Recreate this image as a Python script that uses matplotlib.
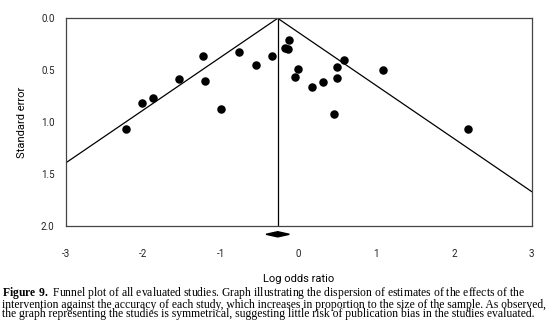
import matplotlib
matplotlib.use("Agg")
import matplotlib.pyplot as plt

# Study estimates
log_or = [-2.23, -2.02, -1.87, -1.54, -1.23, -1.21, -1.00, -0.77, -0.55, -0.34,
          -0.13, -0.18, -0.14, -0.01, -0.05, 0.17, 0.32, 0.49, 0.49, 0.58,
          0.45, 1.08, 2.18]
std_err = [1.07, 0.82, 0.77, 0.58, 0.36, 0.60, 0.875, 0.32, 0.45, 0.365,
           0.21, 0.285, 0.30, 0.485, 0.57, 0.665, 0.615, 0.47, 0.575, 0.40,
           0.92, 0.50, 1.07]
pooled = -0.27
diamond_half_width = 0.15
x_ticks = [-3, -2, -1, 0, 1, 2, 3]
y_ticks = [0.0, 0.5, 1.0, 1.5, 2.0]

caption = (r"$\mathbf{Figure\ 9.}$ Funnel plot of all evaluated studies. Graph illustrating the dispersion of estimates of the effects of the" "\n"
           "intervention against the accuracy of each study, which increases in proportion to the size of the sample. As observed,\n"
           "the graph representing the studies is symmetrical, suggesting little risk of publication bias in the studies evaluated.")

plt.rcParams['font.family'] = ['Roboto', 'DejaVu Sans']
plt.rcParams['mathtext.fontset'] = 'custom'
plt.rcParams['mathtext.bf'] = 'Liberation Serif:bold'
plt.rcParams['mathtext.rm'] = 'Liberation Serif'

fig = plt.figure(figsize=(5.5, 3.3), dpi=100)
ax = fig.add_axes([0.1195, 0.3152, 0.847, 0.6294])

# funnel lines (95% limits)
se_max = 2.0
ax.plot([-3, pooled, 3], [(pooled + 3) / 1.96, 0, (3 - pooled) / 1.96], color='black', lw=0.9)
ax.plot([pooled, pooled], [0, se_max], color='black', lw=0.9)

ax.scatter(log_or, std_err, s=26, color='black', zorder=3)

# pooled estimate diamond under the plot
ax.fill([pooled - diamond_half_width, pooled, pooled + diamond_half_width, pooled],
        [2.08, 2.055, 2.08, 2.105], color='black', clip_on=False)

ax.set_xlim(-3, 3)
ax.set_ylim(2.0, 0.0)
ax.set_xticks(x_ticks)
ax.set_xticklabels([str(t) for t in x_ticks])
ax.set_yticks(y_ticks)
ax.set_yticklabels([f"{t:.1f}" for t in y_ticks])
ax.tick_params(axis='both', length=0, labelsize=7, colors='#222222')
ax.tick_params(axis='x', pad=16.5)
ax.tick_params(axis='y', pad=8)
for s in ax.spines.values():
    s.set_color('#444444')
    s.set_linewidth(0.9)

ax.set_xlabel('Log odds ratio', fontsize=8, labelpad=11)
ax.set_ylabel('Standard error', fontsize=8, labelpad=10)

fig.text(0.004, 0.083, caption, fontsize=8.4, family='Liberation Serif',
         va='center', ha='left', linespacing=0.72)

fig.savefig('out.png', dpi=100)
